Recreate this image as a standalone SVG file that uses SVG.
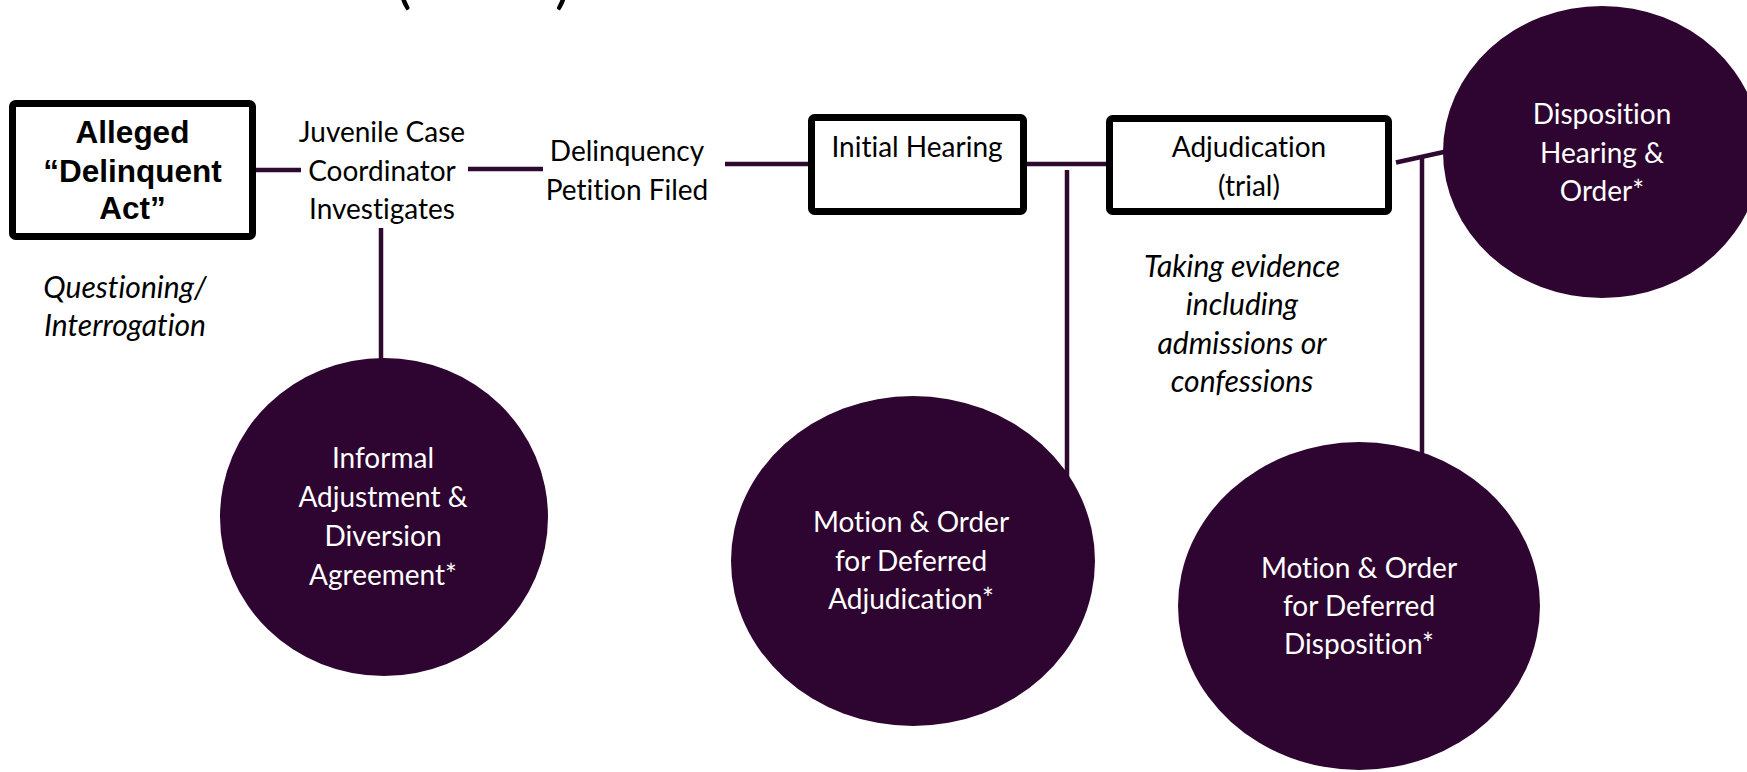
<svg xmlns="http://www.w3.org/2000/svg" width="1747" height="772" viewBox="0 0 1747 772">
  <style>
    text { font-variant-ligatures: none; font-feature-settings: "liga" 0, "clig" 0; }
    .box { fill: #ffffff; stroke: #000000; stroke-width: 7; }
    .disc { fill: #2e0530; }
    .link { stroke: #2f0a30; stroke-width: 4.5; fill: none; }
    .lbl { font-family: Lato, "Open Sans", sans-serif; font-size: 28px; fill: #000000; text-anchor: middle; }
    .note { font-family: Lato, "Open Sans", sans-serif; font-size: 30px; font-style: italic; fill: #000000; text-anchor: middle; }
    .inv { font-family: Lato, "Open Sans", sans-serif; font-size: 28px; fill: #ffffff; text-anchor: middle; }
    .bold { font-family: "Liberation Sans", Arial, sans-serif; font-size: 31.5px; font-weight: bold; fill: #000000; text-anchor: middle; }
    .title { font-family: Lato, "Open Sans", sans-serif; font-size: 58px; fill: #000000; }
  </style>

  <rect width="1747" height="772" fill="#ffffff"/>

  <!-- heading, cut off at the top edge -->
  <g id="heading">
    <text class="title" x="396" y="2">(</text>
    <text class="title" x="555" y="2">)</text>
  </g>

  <!-- connectors -->
  <g id="connectors">
    <line class="link" x1="256" y1="170" x2="301" y2="170"/>
    <line class="link" x1="468" y1="169" x2="543" y2="169"/>
    <line class="link" x1="381" y1="228" x2="381" y2="360"/>
    <line class="link" x1="725" y1="164" x2="808" y2="164"/>
    <line class="link" x1="1027" y1="164" x2="1106" y2="164"/>
    <line class="link" x1="1067" y1="170" x2="1067" y2="477"/>
    <line class="link" x1="1396" y1="162.5" x2="1446" y2="151.5"/>
    <line class="link" x1="1422" y1="156" x2="1422" y2="455"/>
  </g>

  <g id="delinquent-act">
    <rect class="box" x="12.5" y="103.5" width="240" height="133" rx="3"/>
    <text class="bold" x="132.5" y="143">Alleged</text>
    <text class="bold" x="132.5" y="182">“Delinquent</text>
    <text class="bold" x="132.5" y="219">Act”</text>
  </g>

  <g id="questioning">
    <text class="note" x="125" y="298">Questioning/</text>
    <text class="note" x="125" y="336">Interrogation</text>
  </g>

  <g id="coordinator">
    <text class="lbl" x="382" y="142">Juvenile Case</text>
    <text class="lbl" x="382" y="181">Coordinator</text>
    <text class="lbl" x="382" y="219">Investigates</text>
  </g>

  <g id="petition">
    <text class="lbl" x="627" y="161">Delinquency</text>
    <text class="lbl" x="627" y="200">Petition Filed</text>
  </g>

  <g id="initial-hearing">
    <rect class="box" x="811.5" y="117.5" width="212" height="94" rx="3"/>
    <text class="lbl" x="917" y="157">Initial Hearing</text>
  </g>

  <g id="adjudication">
    <rect class="box" x="1109.5" y="118.5" width="279" height="93" rx="3"/>
    <text class="lbl" x="1249" y="157">Adjudication</text>
    <text class="lbl" x="1249" y="196">(trial)</text>
  </g>

  <g id="evidence">
    <text class="note" x="1242" y="277">Taking evidence</text>
    <text class="note" x="1242" y="315">including</text>
    <text class="note" x="1242" y="354">admissions or</text>
    <text class="note" x="1242" y="392">confessions</text>
  </g>

  <g id="disposition">
    <ellipse class="disc" cx="1602" cy="152" rx="159" ry="146"/>
    <text class="inv" x="1602" y="124">Disposition</text>
    <text class="inv" x="1602" y="163">Hearing &amp;</text>
    <text class="inv" x="1602" y="201">Order*</text>
  </g>

  <g id="informal-adjustment">
    <ellipse class="disc" cx="384" cy="517" rx="164" ry="159"/>
    <text class="inv" x="383" y="468">Informal</text>
    <text class="inv" x="383" y="507">Adjustment &amp;</text>
    <text class="inv" x="383" y="546">Diversion</text>
    <text class="inv" x="383" y="585">Agreement*</text>
  </g>

  <g id="deferred-adjudication">
    <ellipse class="disc" cx="913" cy="561" rx="182" ry="165"/>
    <text class="inv" x="911" y="532">Motion &amp; Order</text>
    <text class="inv" x="911" y="571">for Deferred</text>
    <text class="inv" x="911" y="609">Adjudication*</text>
  </g>

  <g id="deferred-disposition">
    <ellipse class="disc" cx="1359" cy="606" rx="181" ry="164"/>
    <text class="inv" x="1359" y="578">Motion &amp; Order</text>
    <text class="inv" x="1359" y="616">for Deferred</text>
    <text class="inv" x="1359" y="654">Disposition*</text>
  </g>
</svg>
